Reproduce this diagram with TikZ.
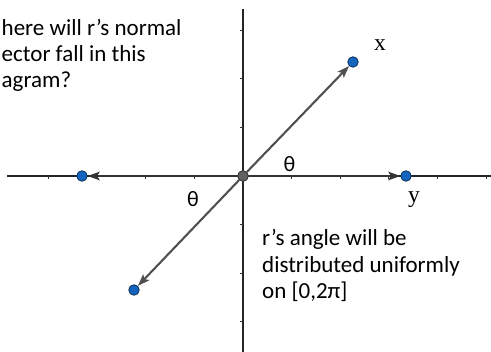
\documentclass[tikz,border=0pt]{standalone}
\usepackage{fontspec}
\setmainfont{Carlito}
\newfontfamily\serifx{Liberation Serif}
\usetikzlibrary{arrows.meta}
\definecolor{dotblue}{HTML}{1565C0}
\definecolor{vecdark}{HTML}{333333}
\definecolor{vecgray}{HTML}{505050}
\begin{document}
\begin{tikzpicture}[x=1pt,y=-1pt,
  axis/.style={line width=1.1pt, draw=black!85},
  tickmark/.style={line width=1pt, draw=black!80},
  vec/.style={line width=2.1pt, draw=#1, -{Stealth[length=12pt,width=8.5pt,inset=2.5pt,color=#1]}},
  bdot/.style={circle, fill=dotblue, draw=black!55!dotblue, line width=0.8pt, minimum size=10.5pt, inner sep=0pt},
  odot/.style={circle, fill=black!62, draw=black!78, line width=0.8pt, minimum size=10.5pt, inner sep=0pt},
  txt/.style={font=\fontsize{23}{26.5}\selectfont, inner sep=0pt, anchor=base west},
  thetalbl/.style={font=\fontsize{22}{26}\selectfont, inner sep=0pt},
  axlbl/.style={font=\serifx\fontsize{23.5}{26}\selectfont, inner sep=0pt}]
\useasboundingbox (0,0) rectangle (491,352);
% axes
\coordinate (hl) at (7,176);
\coordinate (hr) at (491,176);
\coordinate (vt) at (243,9);
\coordinate (vb) at (243,352);
\draw[axis] (hl) -- (hr);
\draw[axis] (vt) -- (vb);
% ticks
\foreach \i in {-4,-3,-2,-1,1,2,3,4,5}
  \draw[tickmark] ({243+48.6*\i},176) -- ++(0,3.5);
\foreach \j in {-3,-2,-1,1,2,3}
  \draw[tickmark] (243,{176+48.6*\j}) -- ++(-3.5,0);
% points
\node[odot] (o) at (243,176) {};
\node[bdot] (px) at (353,62) {};
\node[bdot] (py) at (406,176) {};
\node[bdot] (pl) at (82,176) {};
\node[bdot] (pd) at (134,290) {};
% vectors
\draw[vec=vecgray] (o) -- (px);
\draw[vec=vecgray] (o) -- (pd);
\draw[vec=vecdark] (o) -- (py);
\draw[vec=vecdark] (o) -- (pl);
\node[odot] at (o) {};
% labels
\node[axlbl] (lx) at (380,45) {x};
\node[axlbl] (ly) at (414,200) {y};
\node[thetalbl] (t1) at (289.5,164) {θ};
\node[thetalbl] (t2) at (193,199.5) {θ};
% texts
\node[txt] (q1) at (1.5,35.7) {here will r’s normal};
\node[txt] (q2) at (1.5,61.7) {ector fall in this};
\node[txt] (q3) at (1.5,87.7) {agram?};
\node[txt] (a1) at (262,245.7) {r’s angle will be};
\node[txt] (a2) at (262,272.5) {distributed uniformly};
\node[txt] (a3) at (262,299) {on [0,2π]};
\end{tikzpicture}
\end{document}
